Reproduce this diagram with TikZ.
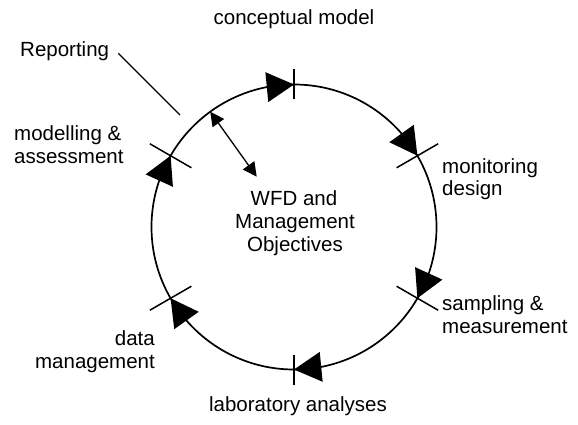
\documentclass[tikz,border=0pt]{standalone}
\usepackage{fontspec}
\setmainfont{Liberation Sans}
\usetikzlibrary{calc,arrows.meta}
\begin{document}
\begin{tikzpicture}[x=1pt,y=-1pt,
  lbl/.style={inner sep=0pt, font=\fontsize{20.5}{23}\selectfont},
  ringline/.style={line width=1.7pt},
  tickmark/.style={line width=1.5pt},
  headfill/.style={fill=black, draw=none},
  thinline/.style={line width=1.3pt},
  dbl/.style={thinline, {Triangle[length=14pt,width=14pt]}-{Triangle[length=14pt,width=14pt]}}]
\useasboundingbox (0,0) rectangle (578,425);
\fill[white] (0,0) rectangle (578,425);
\coordinate (C) at (294,227);
\node[ringline, draw, circle, minimum size=285pt, inner sep=0pt, outer sep=0pt] (ring) at (C) {};
% ticks
\foreach \a/\h in {90/15, 30/24, 330/24, 270/15, 210/24, 150/24} {
  \coordinate (t\a) at (ring.\a);
  \draw[tickmark] ($(t\a)!\h pt!(C)$) -- ($(t\a)!-\h pt!(C)$);
}
% arrowheads (clockwise flow, tip at each tick)
\foreach \a in {90, 30, 330, 270, 210, 150} {
  \pgfmathsetmacro{\b}{\a+11.7}
  \coordinate (T\a) at (ring.\a);
  \coordinate (B\a) at (ring.\b);
  \fill[headfill] ($(B\a)!15pt!90:(T\a)$) -- (T\a) -- ($(B\a)!15pt!-90:(T\a)$) -- cycle;
}
% double arrow to centre
\coordinate (dA) at (ring.126.5);
\coordinate (dB) at (256.7,176.7);
\draw[dbl] (dA) -- (dB);
% Reporting pointer
\coordinate (repA) at (118.3,53.3);
\coordinate (repB) at (180,115);
\draw[thinline] (repA) -- (repB);
% labels
\node[lbl, anchor=base] (concept) at (294,25) {conceptual model};
\node[lbl, anchor=base west] (report) at (20,56.7) {Reporting};
\node[lbl, anchor=base west] (model1) at (14,140.5) {modelling \&};
\node[lbl, anchor=base west] (model2) at (14,163.3) {assessment};
\node[lbl, anchor=base west] (mon1) at (442,173.3) {monitoring};
\node[lbl, anchor=base west] (mon2) at (442,195.5) {design};
\node[lbl, anchor=base west] (samp1) at (442,310) {sampling \&};
\node[lbl, anchor=base west] (samp2) at (442,333.3) {measurement};
\node[lbl, anchor=base east] (data1) at (155,345) {data};
\node[lbl, anchor=base east] (data2) at (155,368.3) {management};
\node[lbl, anchor=base] (wfd1) at (294,205) {WFD and};
\node[lbl, anchor=base] (wfd2) at (295,228.3) {Management};
\node[lbl, anchor=base] (wfd3) at (295,251.7) {Objectives};
\node[lbl, anchor=base] (lab) at (298,411.7) {laboratory analyses};
\end{tikzpicture}
\end{document}
